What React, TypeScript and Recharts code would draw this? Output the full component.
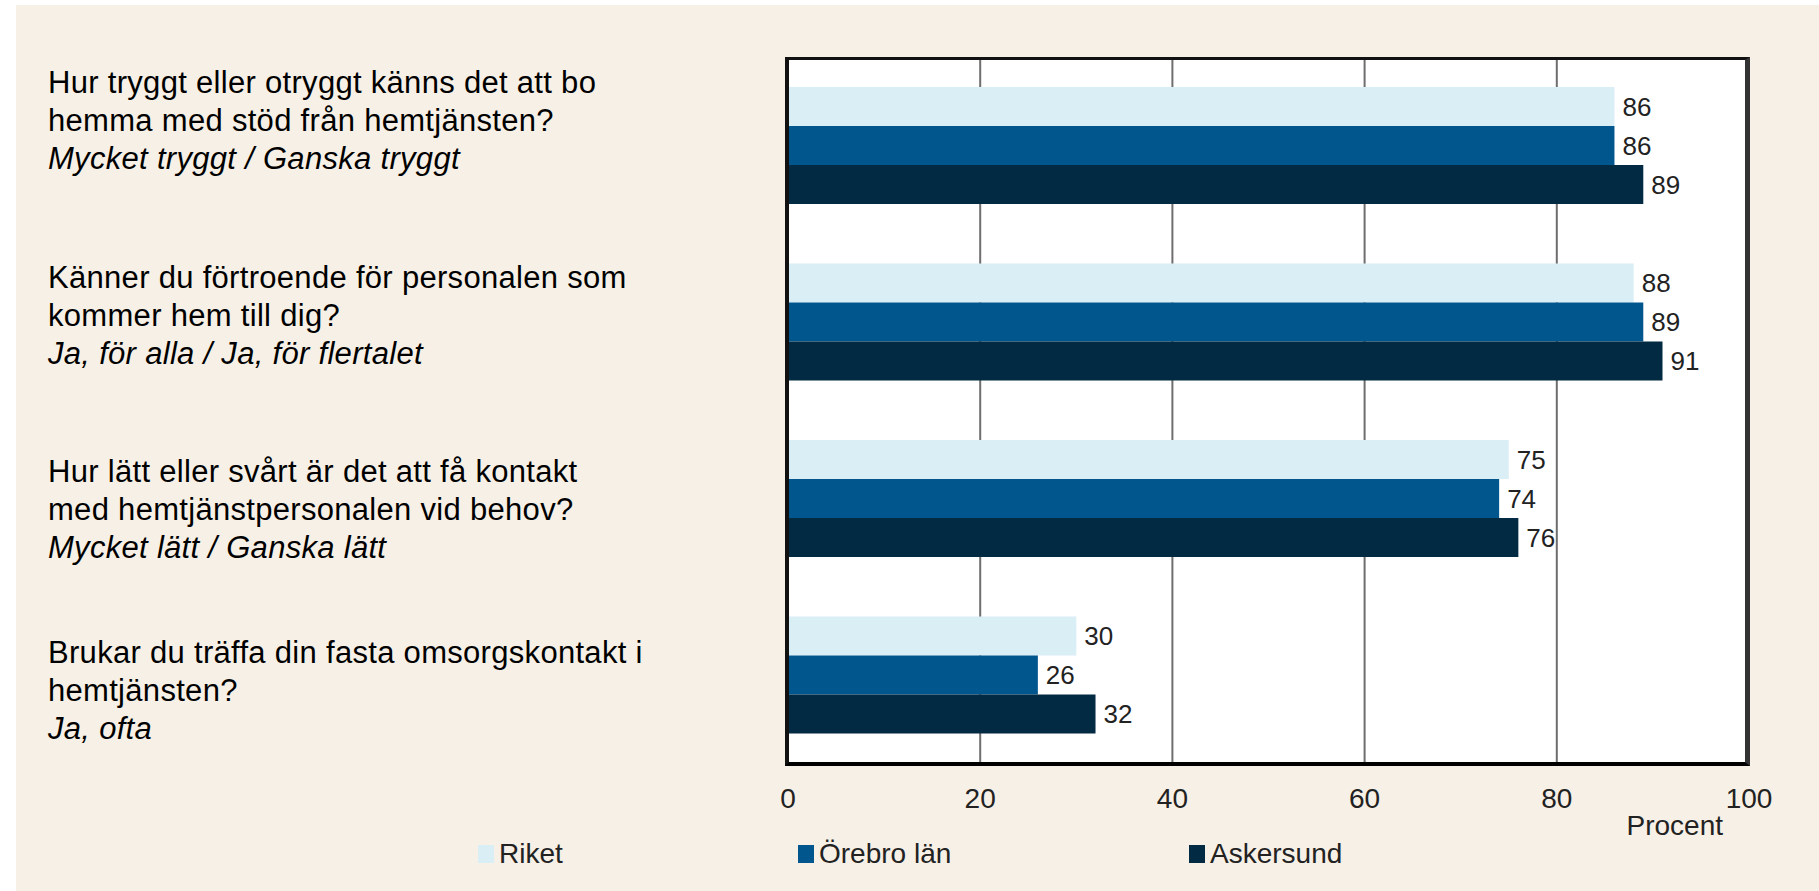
import React from "react";
import {
  Bar,
  BarChart,
  CartesianGrid,
  LabelList,
  XAxis,
  YAxis,
} from "recharts";

// Question text, one entry per category (last line is the answer option, italic)
const questions = [
  ["Hur tryggt eller otryggt känns det att bo", "hemma med stöd från hemtjänsten?", "Mycket tryggt / Ganska tryggt"],
  ["Känner du förtroende för personalen som", "kommer hem till dig?", "Ja, för alla / Ja, för flertalet"],
  ["Hur lätt eller svårt är det att få kontakt", "med hemtjänstpersonalen vid behov?", "Mycket lätt / Ganska lätt"],
  ["Brukar du träffa din fasta omsorgskontakt i", "hemtjänsten?", "Ja, ofta"],
];

const riket = [86, 88, 75, 30];
const orebro = [86, 89, 74, 26];
const askersund = [89, 91, 76, 32];

const xTicks = [0, 20, 40, 60, 80, 100];

const series = [
  { key: "riket", name: "Riket", color: "#daeef6" },
  { key: "orebro", name: "Örebro län", color: "#02568e" },
  { key: "askersund", name: "Askersund", color: "#022a43" },
];

const FONT = "'Liberation Sans', Arial, sans-serif";

const chartData = questions.map((q, i) => ({
  q: String(i),
  riket: riket[i],
  orebro: orebro[i],
  askersund: askersund[i],
}));

// first-line offset from the band centre, the text blocks don't sit centred
const lineOffsets = [-52, -34, -16, -12];

function QuestionTick(props: any) {
  const { y, payload } = props;
  const idx = Number(payload.value);
  const lines = questions[idx];
  const y0 = y + lineOffsets[idx];
  return (
    <g>
      {lines.map((line, j) => (
        <text
          key={j}
          x={48}
          y={y0 + j * 38}
          textAnchor="start"
          fontFamily={FONT}
          fontSize={31}
          letterSpacing={0.3}
          fontStyle={j === lines.length - 1 ? "italic" : "normal"}
          fill="#000"
        >
          {line}
        </text>
      ))}
    </g>
  );
}

export default function App() {
  return (
    <div
      style={{
        position: "absolute",
        left: 0,
        top: 0,
        width: 1819,
        height: 891,
        background: "#fff",
        overflow: "hidden",
      }}
    >
      <div
        style={{
          position: "absolute",
          left: 16,
          top: 5,
          width: 1803,
          height: 886,
          background: "#f7f0e6",
        }}
      />
      <div style={{ position: "absolute", left: 0, top: 0 }}>
        <BarChart
          width={1819}
          height={891}
          data={chartData}
          layout="vertical"
          margin={{ top: 57, right: 70, bottom: 68, left: 0 }}
          barCategoryGap={30}
          barGap={0}
        >
          <CartesianGrid
            horizontal={false}
            stroke="#6e6e6e"
            strokeWidth={2}
            fill="#ffffff"
            fillOpacity={1}
          />
          <XAxis
            type="number"
            domain={[0, 100]}
            ticks={xTicks}
            axisLine={false}
            tickLine={false}
            tickSize={0}
            tickMargin={25}
            height={60}
            interval={0}
            tick={{ fontFamily: FONT, fontSize: 28, fill: "#222" }}
            label={{
              content: (p: any) => {
                const vb = p.viewBox || {};
                return (
                  <text
                    x={vb.x + vb.width - 26}
                    y={835}
                    textAnchor="end"
                    fontFamily={FONT}
                    fontSize={28}
                    fill="#222"
                  >
                    Procent
                  </text>
                );
              },
            }}
          />
          <YAxis
            type="category"
            dataKey="q"
            width={788}
            axisLine={false}
            tickLine={false}
            interval={0}
            tick={<QuestionTick />}
          />
          {series.map((s) => (
            <Bar
              key={s.key}
              dataKey={s.key}
              name={s.name}
              fill={s.color}
              isAnimationActive={false}
            >
              <LabelList
                dataKey={s.key}
                position="right"
                offset={8}
                fontFamily={FONT}
                fontSize={26}
                fill="#222"
              />
            </Bar>
          ))}
        </BarChart>
      </div>
      {/* plot frame */}
      <div
        style={{
          position: "absolute",
          left: 785,
          top: 57,
          width: 1750 - 785 - 4 - 5,
          height: 766 - 57 - 3 - 4,
          borderTop: "3px solid #111",
          borderLeft: "4px solid #111",
          borderBottom: "4px solid #000",
          borderRight: "5px solid #333",
          pointerEvents: "none",
        }}
      />
      {/* legend */}
      {series.map((s, i) => (
        <div
          key={s.key}
          style={{
            position: "absolute",
            left: [478, 798, 1189][i],
            top: 838,
            display: "flex",
            alignItems: "center",
            fontFamily: FONT,
            fontSize: 28,
            color: "#222",
            lineHeight: "32px",
          }}
        >
          <span
            style={{
              display: "inline-block",
              width: 16,
              height: 18,
              background: s.color,
              marginRight: 5,
            }}
          />
          {s.name}
        </div>
      ))}
    </div>
  );
}
